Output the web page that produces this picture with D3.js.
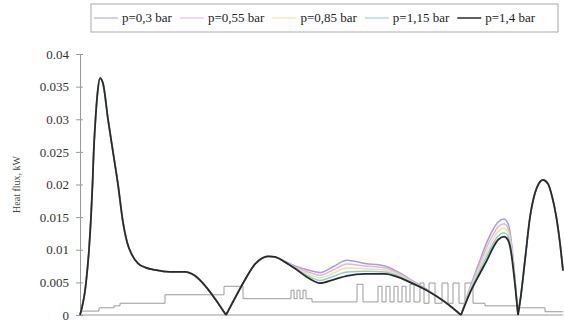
<!DOCTYPE html>
<html>
<head>
<meta charset="utf-8">
<script src="https://cdn.jsdelivr.net/npm/d3@7"></script>
<style>
  body { margin: 0; background: #fff; }
  svg { display: block; }
  svg text { font-family: "Liberation Serif", "DejaVu Serif", serif; }
</style>
</head>
<body>
<div id="chart"></div>
<script>
// positions along the run (arbitrary units, no labels on the axis)
const xs = [0, 6, 9, 11, 12.5, 13.7, 15.5, 17.5, 20, 23, 28, 33, 38, 43, 47, 52, 58, 65, 75, 90, 105, 115, 125, 135, 146,
  155, 165, 175, 182, 188, 195, 205, 217, 228, 240, 253, 267, 285, 305, 318, 333, 350, 365, 381,
  390, 400, 407, 413, 418, 424, 428, 431, 434, 438,
  441, 445, 450, 455, 459, 463, 468, 472, 476, 480, 483];

// shared parts of the curves
const part1 = [0, 0.0049, 0.0100, 0.0150, 0.0200, 0.0250, 0.0300, 0.0340, 0.0363, 0.0355, 0.0300, 0.0250, 0.0200, 0.0142,
  0.0112, 0.0092, 0.0079, 0.0073, 0.0069, 0.0066, 0.0066, 0.0060, 0.0045, 0.0025, 0,
  0.0026, 0.0054, 0.0078, 0.0087, 0.0090, 0.0089];
const part4 = [0.0031, 0.0084, 0.0150, 0.0187, 0.0202, 0.0207, 0.0201, 0.0182, 0.0153, 0.0110, 0.0068];

// heat flux, kW, per pressure
const p03 = part1.concat([0.0082, 0.0074, 0.0069, 0.0065, 0.0074, 0.0084, 0.0079, 0.0075, 0.0066, 0.0052, 0.0036, 0.0020, 0,
  0.0042, 0.0084, 0.0112, 0.0131, 0.0142, 0.0147, 0.0140, 0.0117, 0.0073, 0], part4);
const p055 = part1.concat([0.0082, 0.0072, 0.0066, 0.0061, 0.0069, 0.0078, 0.0075, 0.0072, 0.0064, 0.0051, 0.0036, 0.0020, 0,
  0.0040, 0.0079, 0.0105, 0.0123, 0.0135, 0.0140, 0.0133, 0.0112, 0.0070, 0], part4);
const p085 = part1.concat([0.0081, 0.0071, 0.0063, 0.0057, 0.0064, 0.0072, 0.0071, 0.0069, 0.0062, 0.0050, 0.0035, 0.0020, 0,
  0.0038, 0.0074, 0.0098, 0.0116, 0.0128, 0.0133, 0.0127, 0.0107, 0.0067, 0], part4);
const p115 = part1.concat([0.0081, 0.0070, 0.0060, 0.0053, 0.0059, 0.0066, 0.0067, 0.0066, 0.0060, 0.0049, 0.0035, 0.0020, 0,
  0.0036, 0.0069, 0.0091, 0.0109, 0.0121, 0.0126, 0.0121, 0.0102, 0.0064, 0], part4);
const p14 = part1.concat([0.0081, 0.0069, 0.0057, 0.0049, 0.0054, 0.0060, 0.0063, 0.0063, 0.0058, 0.0048, 0.0035, 0.0020, 0,
  0.0034, 0.0064, 0.0084, 0.0103, 0.0115, 0.0120, 0.0115, 0.0097, 0.0061, 0], part4);

const seriesNames = ["p=0,3 bar", "p=0,55 bar", "p=0,85 bar", "p=1,15 bar", "p=1,4 bar"];
const seriesValues = [p03, p055, p085, p115, p14];
const seriesColors = ["#a99be0", "#e3b0e8", "#eee680", "#86cce6", "#2a2a2a"];

// grey step signal (value holds until next x)
const stepX = [0, 19, 34, 40, 85, 144, 163, 211, 214, 217, 220, 223, 226, 232, 277, 283,
  298, 302, 306, 310, 314, 318, 322, 326, 330, 334, 340, 344, 349, 355, 362, 368, 373, 379, 385, 393,
  405, 437, 465, 483];
const stepY = [0.0006, 0.0011, 0.0014, 0.0018, 0.0031, 0.0044, 0.0025, 0.0038, 0.0025, 0.0038, 0.0025, 0.0038, 0.0025,
  0.0020, 0.0047, 0.0020,
  0.0044, 0.0020, 0.0044, 0.0020, 0.0044, 0.0020, 0.0044, 0.0020, 0.0047, 0.0020, 0.0049, 0.0018, 0.0049, 0.0018,
  0.0049, 0.0018, 0.0049, 0.0018, 0.0049, 0.0018,
  0.0014, 0.0011, 0.0005, 0.0005];

const yTicks = [0, 0.005, 0.01, 0.015, 0.02, 0.025, 0.03, 0.035, 0.04];

const width = 564, height = 324;
const serif = "Liberation Serif, DejaVu Serif, serif";

const svg = d3.select("#chart").append("svg")
  .attr("width", width)
  .attr("height", height)
  .attr("font-family", serif);

const x = d3.scaleLinear().domain([0, 480]).range([80, 560]);
const y = d3.scaleLinear().domain([0, 0.04]).range([315, 54]);

// axes
const yAxis = svg.append("g")
  .attr("transform", `translate(${x(0)},0)`)
  .call(d3.axisLeft(y).tickValues(yTicks).tickSize(4).tickPadding(7)
    .tickFormat(d => String(+d.toFixed(3))));
yAxis.attr("font-family", serif).attr("font-size", 13);
yAxis.select(".domain").attr("stroke", "#999");
yAxis.selectAll(".tick line").attr("stroke", "#999").attr("x2", 3).attr("x1", -4);
yAxis.selectAll(".tick text").attr("fill", "#333");

svg.append("line")
  .attr("x1", x(0)).attr("x2", x(483))
  .attr("y1", y(0)).attr("y2", y(0))
  .attr("stroke", "#999");

svg.append("text")
  .attr("transform", `translate(20,${(y(0) + y(0.04)) / 2}) rotate(-90)`)
  .attr("text-anchor", "middle")
  .attr("font-size", 10)
  .attr("fill", "#444")
  .text("Heat flux, kW");

// step signal
const stepLine = d3.line()
  .x(d => x(d[0]))
  .y(d => y(d[1]))
  .curve(d3.curveStepAfter);

svg.append("path")
  .attr("d", stepLine(stepX.map((v, i) => [v, stepY[i]])))
  .attr("fill", "none")
  .attr("stroke", "#9a9a9a")
  .attr("stroke-width", 1);

// curves, split at the zero points so the V's stay sharp
const line = d3.line()
  .x(d => x(d[0]))
  .y(d => y(d[1]))
  .curve(d3.curveMonotoneX);

seriesValues.forEach((vals, s) => {
  const pts = xs.map((v, i) => [v, vals[i]]);
  const segs = [];
  let cur = [];
  pts.forEach((p, i) => {
    cur.push(p);
    if (p[1] === 0 && i > 0) {
      segs.push(cur);
      cur = [p];
    }
  });
  if (cur.length > 1) segs.push(cur);
  segs.forEach(seg => {
    svg.append("path")
      .attr("d", line(seg))
      .attr("fill", "none")
      .attr("stroke", seriesColors[s])
      .attr("stroke-width", s === 4 ? 1.8 : 1.5);
  });
});

// legend
const legend = svg.append("g");
legend.append("rect")
  .attr("x", 91).attr("y", 4)
  .attr("width", 467).attr("height", 28)
  .attr("fill", "#fff")
  .attr("stroke", "#aaa");

let lx = 94;
seriesNames.forEach((name, i) => {
  legend.append("line")
    .attr("x1", lx).attr("x2", lx + 24)
    .attr("y1", 18).attr("y2", 18)
    .attr("stroke", seriesColors[i])
    .attr("stroke-width", i === 4 ? 1.5 : 1);
  const t = legend.append("text")
    .attr("x", lx + 28).attr("y", 22)
    .attr("font-size", 13)
    .attr("fill", "#222")
    .text(name);
  lx += 28 + t.node().getComputedTextLength() + 8;
});
</script>
</body>
</html>
